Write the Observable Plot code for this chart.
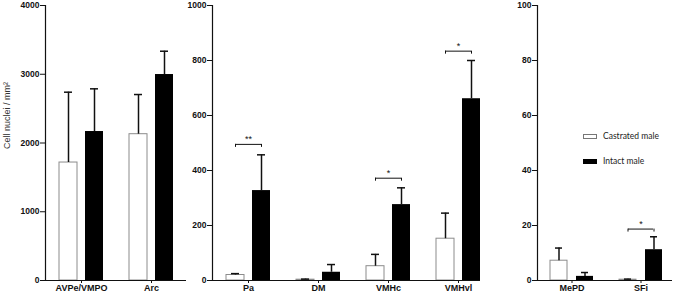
<!DOCTYPE html>
<html><head><meta charset="utf-8">
<script src="https://cdn.jsdelivr.net/npm/d3@7"></script>
<script src="https://cdn.jsdelivr.net/npm/@observablehq/plot@0.6"></script>
<style>
body{margin:0;background:#fff;}
#chart{position:relative;width:675px;height:294px;font-family:"Liberation Sans",Arial,sans-serif;}
#chart svg{position:absolute;left:0;top:0;}
.lg{position:absolute;left:583px;height:12px;display:flex;align-items:center;font-family:Lato,"Open Sans",sans-serif;font-size:8.5px;color:#222;white-space:nowrap;}
.lg .sw{width:14px;height:5px;margin-right:6px;box-sizing:border-box;}
</style></head>
<body><div id="chart"></div>
<script>
// Panel 1
const categories1 = ["AVPe/VMPO", "Arc"];
const castrated1 = [1716, 2128];
const castratedErr1 = [1023, 577];
const intact1 = [2167, 2996];
const intactErr1 = [621, 339];
const yTicks1 = [0, 1000, 2000, 3000, 4000];
// Panel 2
const categories2 = ["Pa", "DM", "VMHc", "VMHvl"];
const castrated2 = [20, 3, 52, 152];
const castratedErr2 = [5, 2, 43, 93];
const intact2 = [327, 30, 276, 661];
const intactErr2 = [130, 28, 61, 139];
const yTicks2 = [0, 200, 400, 600, 800, 1000];
const sigCategories2 = ["Pa", "VMHc", "VMHvl"];
const sigLevels2 = [495, 372, 834];
const sigLabels2 = ["**", "*", "*"];
// Panel 3
const categories3 = ["MePD", "SFi"];
const castrated3 = [7.2, 0.3];
const castratedErr3 = [4.6, 0.2];
const intact3 = [1.5, 11.2];
const intactErr3 = [1.4, 4.7];
const yTicks3 = [0, 20, 40, 60, 80, 100];
const sigCategories3 = ["SFi"];
const sigLevels3 = [18.7];
const sigLabels3 = ["*"];

const yLabel = "Cell nuclei / mm²";
const seriesNames = ["Castrated male", "Intact male"];

const ink = "#111";

function panel(cfg) {
  const rows = cfg.cats.map((c, i) => ({cat: c, castr: cfg.castr[i], castrTop: cfg.castr[i] + cfg.castrErr[i], intact: cfg.intact[i], intactTop: cfg.intact[i] + cfg.intactErr[i]}));
  const sig = (cfg.sigCats || []).map((c, i) => ({cat: c, level: cfg.sigLevels[i], label: cfg.sigLabels[i]}));
  const marks = [
    Plot.barY(rows, {x: "cat", y: "castr", insetLeft: 13, insetRight: 39, fill: "white", stroke: "#8c8c8c", strokeWidth: 1}),
    Plot.barY(rows, {x: "cat", y: "intact", insetLeft: 39, insetRight: 13, fill: "#000"}),
    Plot.ruleX(rows, {x: "cat", y1: "castr", y2: "castrTop", dx: -13, stroke: ink, strokeWidth: 1.5}),
    Plot.tickY(rows, {x: "cat", y: "castrTop", insetLeft: 18, insetRight: 44, stroke: ink, strokeWidth: 1.5}),
    Plot.ruleX(rows, {x: "cat", y1: "intact", y2: "intactTop", dx: 13, stroke: ink, strokeWidth: 1.5}),
    Plot.tickY(rows, {x: "cat", y: "intactTop", insetLeft: 44, insetRight: 18, stroke: ink, strokeWidth: 1.5}),
    Plot.tickY(sig, {x: "cat", y: "level", insetLeft: 22, insetRight: 22, stroke: ink, strokeWidth: 1}),
    Plot.ruleX(sig, {x: "cat", y1: "level", y2: "level", dx: -13, insetTop: 3, stroke: ink, strokeWidth: 1}),
    Plot.ruleX(sig, {x: "cat", y1: "level", y2: "level", dx: 13, insetTop: 3, stroke: ink, strokeWidth: 1}),
    Plot.text(sig, {x: "cat", y: "level", text: "label", dy: -2, lineAnchor: "bottom", fontSize: 9, fill: ink}),
    Plot.ruleY([0], {stroke: ink, strokeWidth: 1.2}),
    Plot.frame({anchor: "left", stroke: ink, strokeWidth: 1.2}),
    Plot.axisY({ticks: cfg.ticks, tickFormat: d3.format("d"), tickSize: 5, tickPadding: 1, fontSize: 8.5, fontWeight: "bold", label: null, stroke: ink, fill: ink}),
    Plot.axisX({tickSize: 3, tickPadding: 1, fontSize: 9, fontWeight: "bold", label: null, stroke: ink, fill: ink})
  ];
  if (cfg.yLabel) marks.push(Plot.text([cfg.yLabel], {frameAnchor: "left", text: d => d, rotate: -90, dx: -38, dy: 6, fontSize: 9, fill: "#333", lineAnchor: "middle"}));
  return Plot.plot({
    width: 675, height: 294,
    marginTop: 5, marginBottom: 14, marginLeft: cfg.marginLeft, marginRight: cfg.marginRight,
    style: {background: "transparent", fontFamily: "'Liberation Sans', Arial, sans-serif", color: ink, overflow: "visible"},
    x: {type: "band", domain: cfg.cats, range: cfg.range, padding: 0},
    y: {domain: [0, cfg.max]},
    marks
  });
}

const chart = document.getElementById("chart");
chart.append(panel({cats: categories1, castr: castrated1, castrErr: castratedErr1, intact: intact1, intactErr: intactErr1, ticks: yTicks1, max: 4000, marginLeft: 45, marginRight: 489, range: [46, 186], yLabel}));
chart.append(panel({cats: categories2, castr: castrated2, castrErr: castratedErr2, intact: intact2, intactErr: intactErr2, ticks: yTicks2, max: 1000, marginLeft: 212, marginRight: 195, range: [213, 493], sigCats: sigCategories2, sigLevels: sigLevels2, sigLabels: sigLabels2}));
chart.append(panel({cats: categories3, castr: castrated3, castrErr: castratedErr3, intact: intact3, intactErr: intactErr3, ticks: yTicks3, max: 100, marginLeft: 537, marginRight: 3, range: [537, 675], sigCats: sigCategories3, sigLevels: sigLevels3, sigLabels: sigLabels3}));

const legendTops = [130, 155];
const legendStyles = ["background:#fff;border:1px solid #777;", "background:#000;"];
seriesNames.forEach((name, i) => {
  const d = document.createElement("div");
  d.className = "lg";
  d.style.top = legendTops[i] + "px";
  d.innerHTML = `<span class="sw" style="${legendStyles[i]}"></span><span>${name}</span>`;
  chart.append(d);
});
</script></body></html>
